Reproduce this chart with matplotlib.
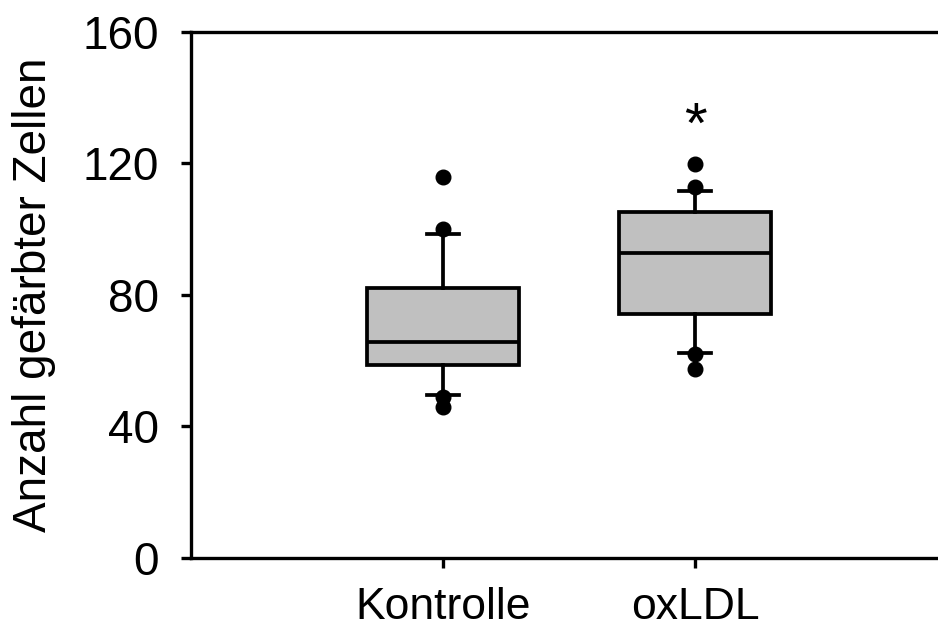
import matplotlib.pyplot as plt

plt.rcParams['font.family'] = ['Liberation Sans', 'DejaVu Sans']

# Gruppen und Kennwerte der Boxplots
gruppen = ["Kontrolle", "oxLDL"]
median = [65.7, 92.7]
q1 = [58.7, 74.2]
q3 = [82.1, 105.2]
whisker_unten = [49.5, 62.3]
whisker_oben = [98.5, 111.6]
ausreisser = [[45.9, 49.0, 100.0, 115.8], [57.4, 62.0, 112.8, 119.8]]
signifikanz = [None, 131]

stats = []
for i, name in enumerate(gruppen):
    stats.append({
        "label": name,
        "med": median[i],
        "q1": q1[i],
        "q3": q3[i],
        "whislo": whisker_unten[i],
        "whishi": whisker_oben[i],
        "fliers": ausreisser[i],
    })

fig = plt.figure(figsize=(9.38, 6.31), dpi=100)
ax = fig.add_axes([0.2036, 0.1157, 0.806, 0.8336])

lw = 2.4
blw = 2.7
ax.bxp(stats, positions=[1, 2], widths=0.6, patch_artist=True,
       boxprops=dict(facecolor="#c0c0c0", edgecolor="black", linewidth=blw),
       medianprops=dict(color="black", linewidth=blw),
       whiskerprops=dict(color="black", linewidth=blw),
       capprops=dict(color="black", linewidth=blw),
       capwidths=0.13,
       flierprops=dict(marker="o", markerfacecolor="black", markeredgecolor="black",
                       markersize=10.5, linestyle="none"))

for i, s in enumerate(signifikanz):
    if s is not None:
        ax.text(i + 1, s, "*", ha="center", va="center", fontsize=42)

ax.set_xlim(0, 3)
ax.set_ylim(0, 160)
ax.set_yticks([0, 40, 80, 120, 160])
ax.set_xticks([1, 2])
ax.set_xticklabels(gruppen)
ax.tick_params(axis="both", labelsize=33, width=lw, length=7, direction="out")
ax.tick_params(axis="x", labelsize=32, pad=14)
ax.tick_params(axis="y", pad=16)
ax.set_ylabel("Anzahl gefärbter Zellen", fontsize=33, labelpad=19)

ax.spines["right"].set_visible(False)
for sp in ["top", "bottom", "left"]:
    ax.spines[sp].set_linewidth(lw)

fig.savefig("out.png", dpi=100)
